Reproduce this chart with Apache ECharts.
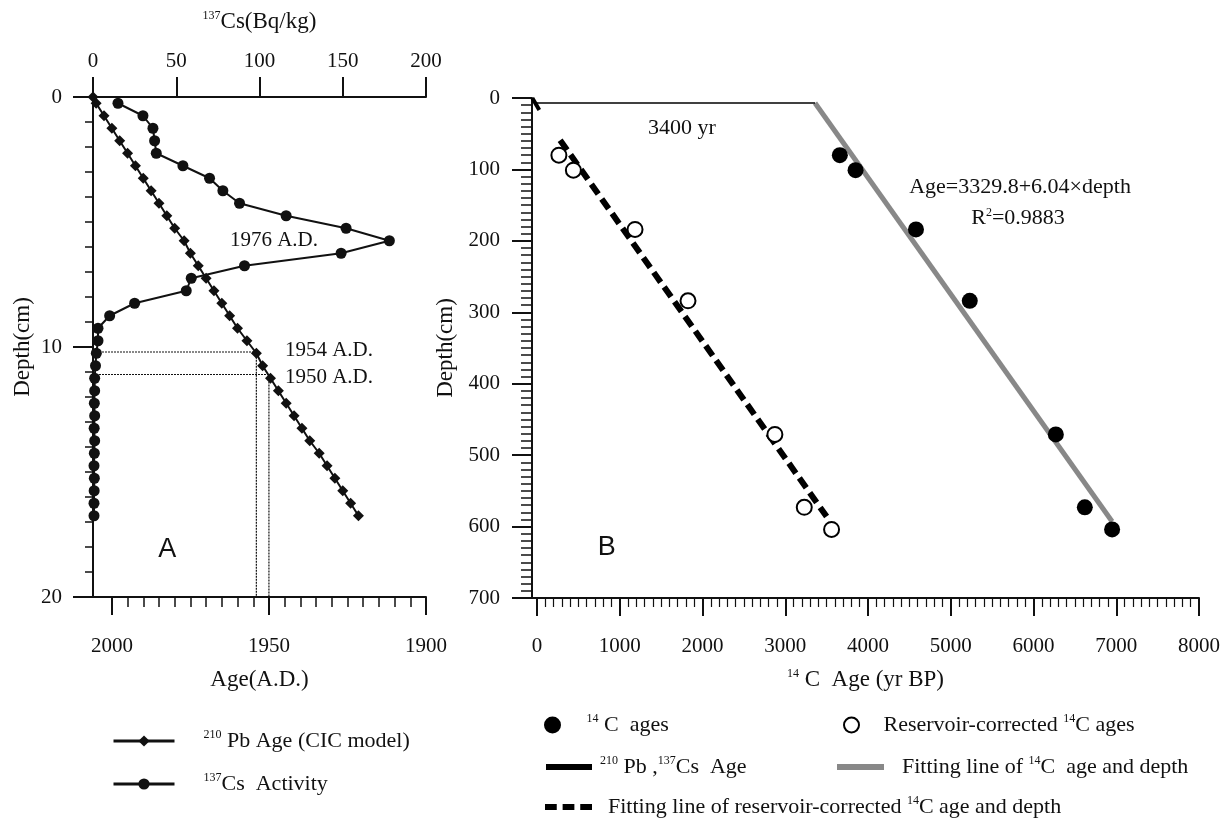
<!DOCTYPE html>
<html>
<head>
<meta charset="utf-8">
<title>Core chronology</title>
<script src="https://cdn.jsdelivr.net/npm/echarts@6/dist/echarts.min.js"></script>
<style>
  html, body { margin: 0; padding: 0; background: #fff; }
  #chart { width: 1226px; height: 820px; }
</style>
</head>
<body>
<div id="chart"></div>
<script>
// ---- panel A : 210Pb / 137Cs ----
var sampleDepth = [0.25, 0.75, 1.25, 1.75, 2.25, 2.75, 3.25, 3.75, 4.25, 4.75, 5.25, 5.75,
  6.25, 6.75, 7.25, 7.75, 8.25, 8.75, 9.25, 9.75, 10.25, 10.75, 11.25, 11.75, 12.25,
  12.75, 13.25, 13.75, 14.25, 14.75, 15.25, 15.75, 16.25, 16.75]
var csActivity = [15, 30, 36, 37, 38, 54, 70, 78, 88, 116, 152, 178,
  149, 91, 59, 56, 25, 10, 3, 3, 2, 1.5, 1, 1, 0.8,
  1, 0.7, 1, 0.8, 0.6, 0.8, 0.7, 0.6, 0.6]
var pbDepth = [0].concat(sampleDepth)
var pbYear = [2006, 2005, 2002.5, 2000, 1997.5, 1995, 1992.5, 1990, 1987.5, 1985, 1982.5, 1980, 1977,
  1975, 1972.5, 1970, 1967.5, 1965, 1962.5, 1960, 1957, 1954, 1952, 1949.5, 1947, 1944.5,
  1942, 1939.5, 1937, 1934, 1931.5, 1929, 1926.5, 1924, 1921.5]
var markYear = [1954, 1950]
var markDepth = [10.2, 11.1]

// ---- panel B : 14C ----
var c14Depth = [80, 101, 184, 284, 471, 573, 604]
var c14Age = [3660, 3850, 4580, 5230, 6270, 6620, 6950]
var corrAge = [265, 440, 1185, 1825, 2875, 3230, 3560]
var fitAge = [3360, 6950]
var fitDepth = [7, 593]
var corrFitAge = [280, 3500]
var corrFitDepth = [59, 586]
var pbcsAge = [-56, 28]      // 2006 A.D. .. 1922 A.D. in yr BP
var pbcsDepth = [0, 16.8]
var offsetAge = [-21, 3360]
var offsetDepth = [7, 7]

var notesA = [
  { text: '1976 A.D.', x: 1948.4, y: 5.72 },
  { text: '1954 A.D.', x: 1930.9, y: 10.12 },
  { text: '1950 A.D.', x: 1930.9, y: 11.2 }
]
var notesB = [
  { text: '3400 yr', x: 1752, y: 43 },
  { text: 'Age=3329.8+6.04\u00d7depth', x: 5837, y: 125 },
  { text: 'R{sup|2}=0.9883', x: 5813, y: 168 }
]
var tagA = [{ text: 'A', x: 1982.4, y: 18.1 }]
var tagB = [{ text: 'B', x: 842, y: 630 }]

function zip(xs, ys) {
  return xs.map(function (v, i) { return [v, ys[i]] })
}
function noteData(list) {
  return list.map(function (n) { return { value: [n.x, n.y], name: n.text } })
}

var serif = 'Liberation Serif'
var ink = '#111'
var sup = { fontSize: 12, lineHeight: 12, verticalAlign: 'top', fontFamily: serif, color: ink }
var nameStyle = { fontSize: 23, lineHeight: 24, fontFamily: serif, color: ink, rich: { sup: sup } }
var legendFont = { fontSize: 22, lineHeight: 24, fontFamily: serif, color: ink }
function gap(w) { return { width: w, fontSize: 22, lineHeight: 24 } }
function plain(v) { return String(v) }

function axisLine() {
  return { show: true, onZero: false, lineStyle: { color: ink, width: 2 } }
}
function tickLabel(margin) {
  return { margin: margin, fontSize: 21, fontFamily: serif, color: ink, formatter: plain }
}

var legendText = {
  '210Pb Age (CIC model)': '{g| }{sup|210}{t| Pb Age (CIC model)}',
  '137Cs Activity': '{g| }{sup|137}{t|Cs  Activity}',
  '14C ages': '{g| }{sup|14}{t| C  ages}',
  'Reservoir-corrected 14C ages': '{g| }{t|Reservoir-corrected }{sup|14}{t|C ages}',
  '210Pb,137Cs Age': '{g| }{sup|210}{t| Pb ,}{sup|137}{t|Cs  Age}',
  'Fitting line of 14C age and depth': '{g| }{t|Fitting line of }{sup|14}{t|C  age and depth}',
  'Fitting line of reservoir-corrected 14C age and depth': '{g| }{t|Fitting line of reservoir-corrected }{sup|14}{t|C age and depth}'
}

function legendBox(opt) {
  return {
    orient: opt.orient || 'horizontal', left: opt.left, top: opt.top, padding: 0,
    itemGap: opt.itemGap || 10, itemWidth: opt.w, itemHeight: opt.h,
    selectedMode: false, data: opt.data,
    lineStyle: opt.lineStyle,
    formatter: function (name) { return legendText[name] },
    textStyle: { rich: { g: gap(opt.gap), sup: sup, t: legendFont } }
  }
}

var dashIcon = 'path://M0,0h12v6h-12zM18,0h12v6h-12zM36,0h12v6h-12z'

var myChart = echarts.init(document.getElementById('chart'))

var option = {
  animation: false,
  backgroundColor: '#fff',
  textStyle: { fontFamily: serif, color: ink },
  grid: [
    { left: 93, top: 97, width: 333, height: 500 },
    { left: 112, top: 97, width: 314, height: 500 },
    { left: 532, top: 98, width: 667, height: 500 },
    { left: 537, top: 98, width: 662, height: 500 }
  ],
  xAxis: [
    {
      // age, data axis
      gridIndex: 0, type: 'value', min: 1900, max: 2006, inverse: true, position: 'bottom',
      axisLine: axisLine(), axisTick: { show: false }, axisLabel: { show: false },
      splitLine: { show: false },
      name: 'Age(A.D.)', nameLocation: 'middle', nameGap: 71,
      nameTextStyle: nameStyle
    },
    {
      // 137Cs activity, top
      gridIndex: 0, type: 'value', min: 0, max: 200, interval: 50, position: 'top',
      axisLine: axisLine(),
      axisTick: { show: true, length: 20, lineStyle: { color: ink, width: 2 } },
      axisLabel: tickLabel(25),
      splitLine: { show: false },
      name: '{sup|137}Cs(Bq/kg)', nameLocation: 'middle', nameGap: 63,
      nameTextStyle: nameStyle
    },
    {
      // age ticks
      gridIndex: 1, type: 'value', min: 1900, max: 2000, interval: 50, inverse: true,
      position: 'bottom',
      axisLine: { show: false, onZero: false },
      axisTick: { show: true, length: 18, lineStyle: { color: ink, width: 2 } },
      minorTick: { show: true, splitNumber: 10, length: 10, lineStyle: { color: ink, width: 1.5 } },
      axisLabel: tickLabel(39),
      splitLine: { show: false }
    },
    {
      // 14C age, data axis
      gridIndex: 2, type: 'value', min: -60, max: 8000, position: 'bottom',
      axisLine: axisLine(), axisTick: { show: false }, axisLabel: { show: false },
      splitLine: { show: false },
      name: '{sup|14} C  Age (yr BP)', nameLocation: 'middle', nameGap: 70,
      nameTextStyle: nameStyle
    },
    {
      gridIndex: 3, type: 'value', min: 0, max: 8000, interval: 1000, position: 'bottom',
      axisLine: { show: false, onZero: false },
      axisTick: { show: true, length: 18, lineStyle: { color: ink, width: 2 } },
      minorTick: { show: true, splitNumber: 10, length: 9, lineStyle: { color: ink, width: 1.2 } },
      axisLabel: tickLabel(38),
      splitLine: { show: false }
    }
  ],
  yAxis: [
    {
      gridIndex: 0, type: 'value', min: 0, max: 20, interval: 10, inverse: true,
      axisLine: axisLine(),
      axisTick: { show: true, length: 20, lineStyle: { color: ink, width: 2 } },
      minorTick: { show: true, splitNumber: 10, length: 8, lineStyle: { color: ink, width: 1.5 } },
      axisLabel: tickLabel(31),
      splitLine: { show: false },
      name: 'Depth(cm)', nameLocation: 'middle', nameGap: 58, nameRotate: 90,
      nameTextStyle: nameStyle
    },
    { gridIndex: 1, type: 'value', min: 0, max: 20, inverse: true, show: false },
    {
      gridIndex: 2, type: 'value', min: 0, max: 700, interval: 100, inverse: true,
      axisLine: axisLine(),
      axisTick: { show: true, length: 20, lineStyle: { color: ink, width: 2 } },
      minorTick: { show: true, splitNumber: 10, length: 11, lineStyle: { color: ink, width: 1.5 } },
      axisLabel: tickLabel(32),
      splitLine: { show: false },
      name: 'Depth(cm)', nameLocation: 'middle', nameGap: 73, nameRotate: 90,
      nameTextStyle: nameStyle
    },
    { gridIndex: 3, type: 'value', min: 0, max: 700, inverse: true, show: false }
  ],
  legend: [
    legendBox({ orient: 'vertical', left: 112, top: 729, itemGap: 20, w: 61, h: 14, gap: 24,
      lineStyle: { width: 3 },
      data: ['210Pb Age (CIC model)', '137Cs Activity'] }),
    legendBox({ left: 544, top: 713, w: 46, h: 17, gap: 6,
      data: [{ name: '14C ages' }] }),
    legendBox({ left: 843, top: 713, w: 50, h: 15, gap: 2,
      data: [{ name: 'Reservoir-corrected 14C ages' }] }),
    legendBox({ left: 546, top: 755, w: 46, h: 6, gap: 3,
      data: [{ name: '210Pb,137Cs Age', icon: 'rect' }] }),
    legendBox({ left: 837, top: 755, w: 47, h: 6, gap: 13,
      data: [{ name: 'Fitting line of 14C age and depth', icon: 'rect' }] }),
    legendBox({ left: 545, top: 795, w: 47, h: 6, gap: 11,
      data: [{ name: 'Fitting line of reservoir-corrected 14C age and depth', icon: dashIcon }] })
  ],
  series: [
    {
      name: '210Pb Age (CIC model)', type: 'line', xAxisIndex: 0, yAxisIndex: 0,
      data: zip(pbYear, pbDepth),
      symbol: 'diamond', symbolSize: 11,
      lineStyle: { color: ink, width: 2 }, itemStyle: { color: ink }, z: 3
    },
    {
      name: '137Cs Activity', type: 'line', xAxisIndex: 1, yAxisIndex: 0,
      data: zip(csActivity, sampleDepth),
      symbol: 'circle', symbolSize: 11,
      lineStyle: { color: ink, width: 2 }, itemStyle: { color: ink }, z: 4
    },
    {
      type: 'line', xAxisIndex: 0, yAxisIndex: 0, symbol: 'none', silent: true,
      data: [[2006, markDepth[0]], [markYear[0], markDepth[0]], [markYear[0], 20]],
      lineStyle: { color: ink, width: 1.2, type: [2, 1] }, z: 2
    },
    {
      type: 'line', xAxisIndex: 0, yAxisIndex: 0, symbol: 'none', silent: true,
      data: [[2006, markDepth[1]], [markYear[1], markDepth[1]], [markYear[1], 20]],
      lineStyle: { color: ink, width: 1.2, type: [2, 1] }, z: 2
    },
    {
      type: 'scatter', xAxisIndex: 0, yAxisIndex: 0, symbolSize: 0, silent: true,
      data: noteData(notesA), itemStyle: { opacity: 1 },
      label: { show: true, position: 'inside', formatter: '{b}', fontSize: 21, fontFamily: serif, color: ink }
    },
    {
      name: 'Fitting line of 14C age and depth', type: 'line', xAxisIndex: 3, yAxisIndex: 2,
      data: zip(fitAge, fitDepth), symbol: 'none',
      lineStyle: { color: '#888', width: 5 }, itemStyle: { color: '#888' }, z: 2
    },
    {
      name: 'Fitting line of reservoir-corrected 14C age and depth', type: 'line',
      xAxisIndex: 3, yAxisIndex: 2, data: zip(corrFitAge, corrFitDepth), symbol: 'none',
      lineStyle: { color: '#000', width: 6, type: [12, 6] }, itemStyle: { color: '#000' }, z: 2
    },
    {
      name: '210Pb,137Cs Age', type: 'line', xAxisIndex: 3, yAxisIndex: 2,
      data: zip(pbcsAge, pbcsDepth), symbol: 'none',
      lineStyle: { color: '#000', width: 4 }, itemStyle: { color: '#000' }, z: 3
    },
    {
      type: 'line', xAxisIndex: 3, yAxisIndex: 2, silent: true,
      data: zip(offsetAge, offsetDepth), symbol: 'none',
      lineStyle: { color: '#000', width: 1.3 }, z: 2
    },
    {
      name: '14C ages', type: 'scatter', xAxisIndex: 3, yAxisIndex: 2,
      data: zip(c14Age, c14Depth), symbol: 'circle', symbolSize: 16,
      itemStyle: { color: '#000', opacity: 1 }, z: 4
    },
    {
      name: 'Reservoir-corrected 14C ages', type: 'scatter', xAxisIndex: 3, yAxisIndex: 2,
      data: zip(corrAge, c14Depth), symbol: 'emptyCircle', symbolSize: 15,
      itemStyle: { color: '#000', borderColor: '#000', borderWidth: 1.6, opacity: 1 }, z: 4
    },
    {
      type: 'scatter', xAxisIndex: 3, yAxisIndex: 2, symbolSize: 0, silent: true,
      data: noteData(notesB), itemStyle: { opacity: 1 },
      label: {
        show: true, position: 'inside', formatter: '{b}', fontSize: 22, fontFamily: serif, color: ink,
        rich: { sup: sup }
      }
    },
    {
      type: 'scatter', xAxisIndex: 0, yAxisIndex: 0, symbolSize: 0, silent: true,
      data: noteData(tagA), itemStyle: { opacity: 1 },
      label: { show: true, position: 'inside', formatter: '{b}', fontSize: 27, fontFamily: 'Liberation Sans', color: ink }
    },
    {
      type: 'scatter', xAxisIndex: 3, yAxisIndex: 2, symbolSize: 0, silent: true,
      data: noteData(tagB), itemStyle: { opacity: 1 },
      label: { show: true, position: 'inside', formatter: '{b}', fontSize: 27, fontFamily: 'Liberation Sans', color: ink }
    }
  ]
}

myChart.setOption(option)
</script>
</body>
</html>
